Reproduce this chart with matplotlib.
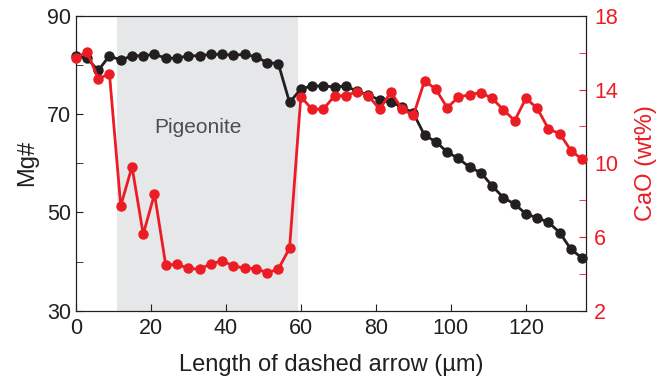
import numpy as np
import matplotlib
matplotlib.use("Agg")
import matplotlib.pyplot as plt

plt.rcParams['font.family'] = ['Liberation Sans', 'DejaVu Sans']

# distance along the dashed arrow (um)
dist = [0, 3, 6, 9, 12, 15, 18, 21, 24, 27, 30, 33, 36, 39, 42, 45,
        48, 51, 54, 57, 60, 63, 66, 69, 72, 75, 78, 81, 84, 87, 90, 93,
        96, 99, 102, 105, 108, 111, 114, 117, 120, 123, 126, 129, 132, 135]

mg_number = [81.9, 81.4, 78.9, 81.9, 81.0, 81.9, 81.9, 82.2, 81.4, 81.4,
             81.9, 81.9, 82.2, 82.2, 82.0, 82.2, 81.7, 80.5, 80.3, 72.4,
             75.1, 75.8, 75.7, 75.6, 75.7, 74.7, 73.9, 72.9, 72.4, 71.5,
             70.2, 65.7, 64.4, 62.3, 61.0, 59.2, 58.1, 55.4, 53.0, 51.7,
             49.7, 48.9, 48.0, 45.9, 42.5, 40.7]

cao = [15.7, 16.06, 14.6, 14.85, 7.69, 9.82, 6.15, 8.34, 4.48, 4.52,
       4.30, 4.25, 4.54, 4.70, 4.44, 4.30, 4.29, 4.06, 4.25, 5.40,
       13.62, 12.93, 12.95, 13.66, 13.68, 13.89, 13.68, 12.93, 13.87, 12.95,
       12.60, 14.49, 14.02, 13.02, 13.59, 13.73, 13.84, 13.53, 12.90, 12.32,
       13.53, 12.99, 11.87, 11.61, 10.69, 10.22]

pigeonite_zone = (10.9, 59.2)

x_ticks = [0, 20, 40, 60, 80, 100, 120]
mg_ticks = [30, 50, 70, 90]
mg_minor = [40, 60, 80]
cao_ticks = [2, 6, 10, 14, 18]
cao_minor = [4, 8, 12, 16]

red = '#ec1c24'
black = '#231f20'

fig = plt.figure(figsize=(6.67, 3.8), dpi=100)
ax = fig.add_axes([0.1135, 0.1824, 0.765, 0.7756])
ax2 = ax.twinx()

ax.axvspan(*pigeonite_zone, color='#e6e7e8', lw=0, zorder=0)
ax.text(32.6, 67.3, 'Pigeonite', ha='center', va='center', fontsize=15, color='#4d4d4f')

ax.plot(dist, mg_number, '-o', color=black, lw=2, ms=6.5, clip_on=False, zorder=3)
ax2.plot(dist, cao, '-o', color=red, lw=2, ms=6.5, clip_on=False, zorder=3)

ax.set_xlim(0, 136)
ax.set_ylim(30, 90)
ax2.set_ylim(2, 18)

ax.set_xticks(x_ticks)
ax.set_yticks(mg_ticks)
ax.set_yticks(mg_minor, minor=True)
ax2.set_yticks(cao_ticks)
ax2.set_yticks(cao_minor, minor=True)

ax.tick_params(axis='both', which='both', direction='in', length=5, labelsize=15.5,
               color=black, labelcolor=black)
ax.tick_params(axis='x', pad=5)
ax.tick_params(axis='y', pad=3.5)
ax2.tick_params(axis='y', which='both', direction='in', length=5, colors=red,
                labelsize=15.5, pad=6)

ax.set_xlabel('Length of dashed arrow (µm)', fontsize=17, labelpad=11, color=black)
ax.set_ylabel('Mg#', fontsize=17, labelpad=6, color=black)
ax2.set_ylabel('CaO (wt%)', fontsize=17, color=red, labelpad=12)

for s in ax2.spines.values():
    s.set_color(black)

fig.savefig('out.png', dpi=100)
